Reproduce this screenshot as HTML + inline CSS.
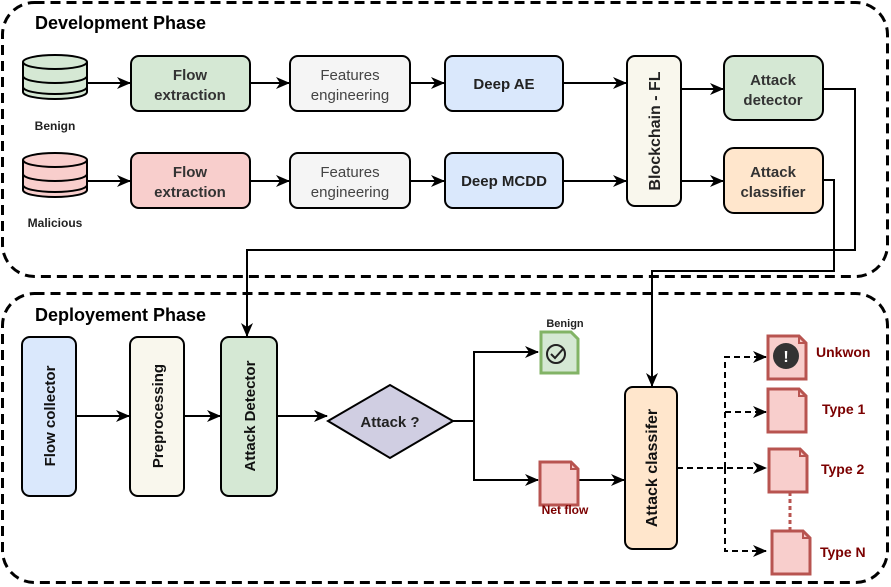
<!DOCTYPE html>
<html><head><meta charset="utf-8"><style>body{margin:0;background:#fff}svg{display:block;font-family:"Liberation Sans",sans-serif}</style></head><body>
<svg width="891" height="587" viewBox="0 0 891 587" xmlns="http://www.w3.org/2000/svg">
<defs>
<marker id="a" markerWidth="14" markerHeight="12" refX="13" refY="6" orient="auto" markerUnits="userSpaceOnUse"><path d="M0,0 L14,6 L0,12 L4,6 Z" fill="#000"/></marker>
<g id="doc"><path d="M0,0 H31 L38,7 V43 H0 Z" fill="#f8cecc" stroke="#b85450" stroke-width="3"/><path d="M31,0 V7 H38" fill="none" stroke="#b85450" stroke-width="2"/></g>
</defs>
<rect x="2.5" y="2.5" width="885" height="274" rx="32" fill="none" stroke="#000" stroke-width="3" stroke-dasharray="10,6"/>
<rect x="2.5" y="293.5" width="885" height="289" rx="32" fill="none" stroke="#000" stroke-width="3" stroke-dasharray="10,6"/>
<text x="35" y="29" font-size="18" font-weight="bold">Development Phase</text>
<text x="35" y="321" font-size="18" font-weight="bold">Deployement Phase</text>
<g stroke="#000" stroke-width="2" fill="none">
<g fill="#d5e8d4"><path d="M23,62 V92 A32,7 0 0 0 87,92 V62"/><ellipse cx="55" cy="62" rx="32" ry="7"/><path d="M23,76 A32,7 0 0 0 87,76 M23,87 A32,7 0 0 0 87,87" fill="none"/></g>
<g fill="#f8cecc"><path d="M23,160 V190 A32,7 0 0 0 87,190 V160"/><ellipse cx="55" cy="160" rx="32" ry="7"/><path d="M23,174 A32,7 0 0 0 87,174 M23,185 A32,7 0 0 0 87,185" fill="none"/></g>
<rect x="131" y="56" width="119" height="55" rx="8" fill="#d5e8d4"/>
<rect x="290" y="56" width="120" height="55" rx="8" fill="#f5f5f5"/>
<rect x="445" y="56" width="118" height="55" rx="8" fill="#dae8fc"/>
<rect x="131" y="153" width="119" height="55" rx="8" fill="#f8cecc"/>
<rect x="290" y="153" width="120" height="55" rx="8" fill="#f5f5f5"/>
<rect x="445" y="153" width="118" height="55" rx="8" fill="#dae8fc"/>
<rect x="627" y="56" width="54" height="150" rx="8" fill="#f9f7ed"/>
<rect x="724" y="56" width="99" height="64" rx="10" fill="#d5e8d4"/>
<rect x="724" y="148" width="99" height="65" rx="10" fill="#ffe6cc"/>
<g marker-end="url(#a)">
<path d="M88,83 H130"/><path d="M250,83 H289"/><path d="M410,83 H444"/><path d="M563,83 H626"/>
<path d="M88,181 H130"/><path d="M250,181 H289"/><path d="M410,181 H444"/><path d="M563,181 H626"/>
<path d="M681,89 H723"/><path d="M681,181 H723"/>
<path d="M823,89 H855 V250 H247 V336"/>
<path d="M823,180 H834 V271 H652 V386"/>
</g>
<rect x="22" y="337" width="54" height="159" rx="8" fill="#dae8fc"/>
<rect x="130" y="337" width="54" height="159" rx="8" fill="#f9f7ed"/>
<rect x="221" y="337" width="56" height="159" rx="8" fill="#d5e8d4"/>
<path d="M328,421 L390,385 L453,421 L390,458 Z" fill="#d0cee2"/>
<rect x="625" y="387" width="52" height="162" rx="8" fill="#ffe6cc"/>
<g marker-end="url(#a)">
<path d="M76,416 H129"/><path d="M184,416 H220"/><path d="M277,416 H327"/>
<path d="M453,421 H474 V352 H538"/><path d="M474,421 V480 H538"/>
<path d="M578,480 H624"/>
</g>
<g stroke-dasharray="6,4" marker-end="url(#a)">
<path d="M677,468 H766"/><path d="M725,468 V357 H766"/><path d="M725,412 H766"/><path d="M725,468 V551 H766"/>
</g>
</g>
<path d="M541,332 H571 L578,339 V373 H541 Z" fill="#d5e8d4" stroke="#82b366" stroke-width="3"/>
<circle cx="556" cy="354" r="9" fill="none" stroke="#222" stroke-width="2"/><path d="M551,354 L555,358 L563,349" fill="none" stroke="#222" stroke-width="2"/>
<use href="#doc" x="540" y="462"/>
<use href="#doc" x="768" y="336"/>
<circle cx="786" cy="356" r="13" fill="#333"/><text x="786" y="362" font-size="16" font-weight="bold" fill="#fff" text-anchor="middle">!</text>
<use href="#doc" x="768" y="389"/>
<use href="#doc" x="769" y="449"/>
<use href="#doc" x="772" y="531"/>
<path d="M790,492 V530" stroke="#b85450" stroke-width="3" stroke-dasharray="4,3"/>
<g font-weight="bold" text-anchor="middle" font-size="15" fill="#333">
<text x="190" y="80">Flow</text><text x="190" y="100">extraction</text>
<text x="350" y="80" fill="#444" font-weight="normal">Features</text><text x="350" y="100" fill="#444" font-weight="normal">engineering</text>
<text x="504" y="89" fill="#222">Deep AE</text>
<text x="190" y="177">Flow</text><text x="190" y="197">extraction</text>
<text x="350" y="177" fill="#444" font-weight="normal">Features</text><text x="350" y="197" fill="#444" font-weight="normal">engineering</text>
<text x="504" y="186" fill="#222">Deep MCDD</text>
<text x="773" y="85">Attack</text><text x="773" y="105">detector</text>
<text x="773" y="177">Attack</text><text x="773" y="197">classifier</text>
<text transform="translate(660,131) rotate(-90)" font-size="16" fill="#222">Blockchain - FL</text>
<text transform="translate(55,416) rotate(-90)" fill="#111">Flow collector</text>
<text transform="translate(163,416) rotate(-90)" fill="#111">Preprocessing</text>
<text transform="translate(255,416) rotate(-90)" fill="#111">Attack Detector</text>
<text transform="translate(657,468) rotate(-90)" font-size="16" fill="#111">Attack classifer</text>
<text x="390" y="427" fill="#222">Attack ?</text>
<text x="55" y="130" font-size="12" fill="#222">Benign</text>
<text x="55" y="227" font-size="12" fill="#222">Malicious</text>
<text x="565" y="327" font-size="11" fill="#222">Benign</text>
<text x="565" y="514" font-size="12" fill="#7b0000">Net flow</text>
</g>
<g font-weight="bold" font-size="14" fill="#7b0000">
<text x="816" y="357">Unkwon</text><text x="822" y="414">Type 1</text><text x="821" y="474">Type 2</text><text x="820" y="557">Type N</text>
</g>
</svg>
</body></html>
